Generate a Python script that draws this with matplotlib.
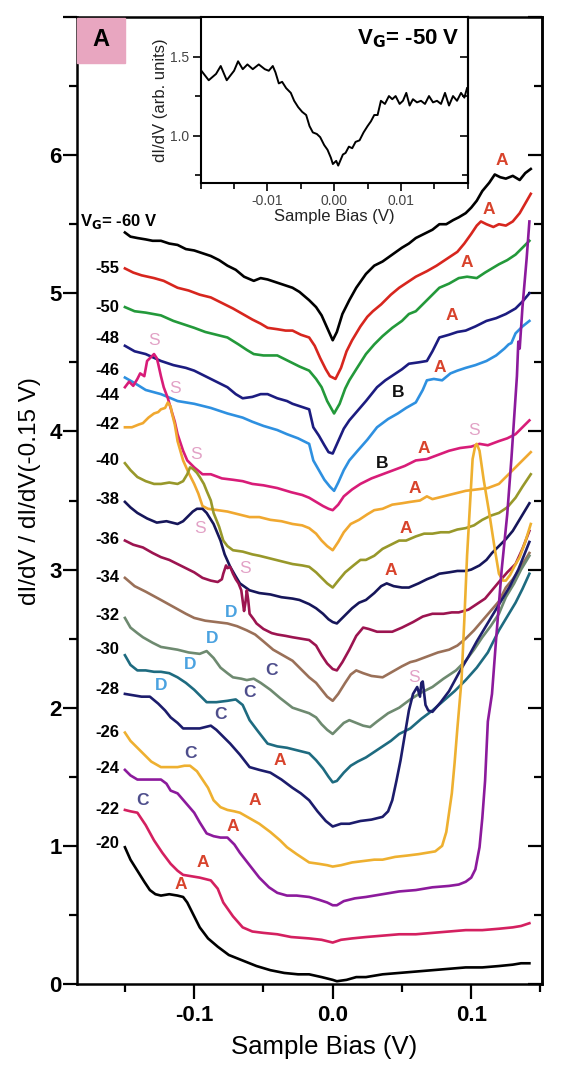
import matplotlib.pyplot as plt
from matplotlib.ticker import FixedLocator, FixedFormatter
from matplotlib.patches import Rectangle

plt.rcParams['font.family'] = ['Liberation Sans', 'DejaVu Sans']

# gate voltage of every trace, top to bottom
gate_v = ['-60', '-55', '-50', '-48', '-46', '-44', '-42', '-40', '-38',
          '-36', '-34', '-32', '-30', '-28', '-26', '-24', '-22', '-20']
colors = ['#000000', '#d7261e', '#23993a', '#1c1c80', '#2e90e0', '#d81c78',
          '#f0a830', '#98982a', '#16165a', '#9c1450', '#9a7058', '#6e8a70',
          '#1e6b80', '#1c1c6c', '#eeb030', '#8c1a9c', '#d42060', '#000000']

x60 = [-0.150, -0.146, -0.141, -0.135, -0.130, -0.124, -0.118, -0.112, -0.106, -0.100, -0.094, -0.088, -0.082, -0.076, -0.070, -0.064, -0.057, -0.052, -0.047, -0.041, -0.035, -0.029, -0.024, -0.017, -0.012, -0.008, -0.004, 0.000, 0.003, 0.007, 0.012, 0.017, 0.024, 0.030, 0.036, 0.043, 0.050, 0.055, 0.060, 0.066, 0.072, 0.077, 0.082, 0.087, 0.091, 0.096, 0.100, 0.104, 0.108, 0.113, 0.117, 0.121, 0.125, 0.130, 0.135, 0.139, 0.143]
y60 = [5.44, 5.41, 5.40, 5.39, 5.38, 5.38, 5.36, 5.35, 5.32, 5.31, 5.29, 5.27, 5.24, 5.20, 5.17, 5.12, 5.09, 5.11, 5.10, 5.08, 5.06, 5.04, 5.01, 4.95, 4.90, 4.84, 4.75, 4.66, 4.72, 4.85, 4.95, 5.04, 5.14, 5.20, 5.23, 5.28, 5.33, 5.36, 5.40, 5.43, 5.46, 5.50, 5.50, 5.53, 5.55, 5.58, 5.62, 5.67, 5.74, 5.80, 5.86, 5.84, 5.83, 5.85, 5.82, 5.87, 5.90]

x55 = [-0.150, -0.144, -0.138, -0.129, -0.122, -0.112, -0.104, -0.096, -0.088, -0.080, -0.072, -0.065, -0.058, -0.052, -0.047, -0.040, -0.034, -0.029, -0.023, -0.017, -0.013, -0.009, -0.005, -0.002, 0.002, 0.006, 0.010, 0.014, 0.020, 0.025, 0.029, 0.035, 0.042, 0.048, 0.054, 0.060, 0.068, 0.075, 0.084, 0.090, 0.095, 0.100, 0.104, 0.107, 0.111, 0.116, 0.120, 0.125, 0.130, 0.135, 0.139, 0.143]
y55 = [5.18, 5.15, 5.13, 5.11, 5.09, 5.04, 5.02, 4.99, 4.97, 4.93, 4.89, 4.85, 4.81, 4.78, 4.75, 4.74, 4.73, 4.73, 4.70, 4.68, 4.62, 4.53, 4.45, 4.40, 4.38, 4.46, 4.58, 4.66, 4.76, 4.83, 4.87, 4.92, 4.99, 5.04, 5.08, 5.12, 5.16, 5.20, 5.26, 5.30, 5.36, 5.43, 5.49, 5.52, 5.50, 5.48, 5.50, 5.49, 5.52, 5.58, 5.65, 5.72]

x50 = [-0.150, -0.143, -0.135, -0.124, -0.115, -0.106, -0.100, -0.092, -0.084, -0.076, -0.068, -0.062, -0.057, -0.050, -0.040, -0.032, -0.024, -0.017, -0.012, -0.008, -0.004, 0.001, 0.005, 0.009, 0.012, 0.017, 0.024, 0.030, 0.036, 0.043, 0.050, 0.055, 0.060, 0.066, 0.072, 0.077, 0.084, 0.091, 0.097, 0.104, 0.110, 0.115, 0.120, 0.126, 0.132, 0.137, 0.142]
y50 = [4.90, 4.87, 4.86, 4.84, 4.80, 4.77, 4.75, 4.72, 4.70, 4.68, 4.63, 4.59, 4.56, 4.55, 4.55, 4.51, 4.47, 4.44, 4.38, 4.32, 4.22, 4.13, 4.20, 4.31, 4.37, 4.45, 4.56, 4.63, 4.69, 4.75, 4.80, 4.85, 4.87, 4.93, 4.99, 5.04, 5.07, 5.11, 5.12, 5.11, 5.15, 5.18, 5.21, 5.24, 5.28, 5.33, 5.38]

x48 = [-0.150, -0.143, -0.135, -0.124, -0.115, -0.106, -0.100, -0.092, -0.084, -0.076, -0.070, -0.065, -0.058, -0.052, -0.047, -0.040, -0.033, -0.029, -0.023, -0.017, -0.014, -0.010, -0.006, -0.003, 0.000, 0.004, 0.008, 0.012, 0.018, 0.024, 0.032, 0.038, 0.044, 0.050, 0.055, 0.062, 0.068, 0.072, 0.077, 0.084, 0.090, 0.096, 0.103, 0.111, 0.118, 0.125, 0.132, 0.137, 0.142]
y48 = [4.62, 4.58, 4.56, 4.51, 4.48, 4.46, 4.44, 4.40, 4.36, 4.32, 4.27, 4.24, 4.25, 4.27, 4.27, 4.24, 4.22, 4.20, 4.18, 4.16, 4.03, 3.97, 3.90, 3.85, 3.84, 3.93, 4.02, 4.08, 4.15, 4.22, 4.32, 4.37, 4.41, 4.45, 4.49, 4.50, 4.51, 4.58, 4.68, 4.70, 4.72, 4.73, 4.76, 4.80, 4.82, 4.85, 4.89, 4.94, 5.00]

x46 = [-0.150, -0.143, -0.135, -0.124, -0.112, -0.100, -0.088, -0.076, -0.065, -0.058, -0.050, -0.040, -0.033, -0.025, -0.017, -0.014, -0.010, -0.006, -0.002, 0.001, 0.004, 0.008, 0.012, 0.018, 0.025, 0.032, 0.040, 0.047, 0.053, 0.060, 0.065, 0.068, 0.073, 0.079, 0.085, 0.090, 0.096, 0.103, 0.111, 0.118, 0.124, 0.127, 0.129, 0.132, 0.137, 0.142]
y46 = [4.39, 4.35, 4.30, 4.27, 4.22, 4.20, 4.17, 4.13, 4.10, 4.07, 4.04, 4.01, 3.98, 3.95, 3.91, 3.79, 3.72, 3.65, 3.60, 3.57, 3.63, 3.72, 3.79, 3.86, 3.94, 4.03, 4.09, 4.13, 4.17, 4.21, 4.30, 4.37, 4.38, 4.37, 4.42, 4.44, 4.46, 4.48, 4.51, 4.55, 4.60, 4.63, 4.64, 4.71, 4.76, 4.80]

x44 = [-0.150, -0.147, -0.144, -0.141, -0.139, -0.136, -0.134, -0.131, -0.129, -0.127, -0.126, -0.124, -0.122, -0.119, -0.117, -0.114, -0.112, -0.108, -0.105, -0.100, -0.094, -0.088, -0.080, -0.072, -0.065, -0.058, -0.050, -0.040, -0.030, -0.022, -0.017, -0.012, -0.007, -0.003, 0.000, 0.004, 0.008, 0.014, 0.020, 0.028, 0.036, 0.044, 0.052, 0.060, 0.068, 0.076, 0.084, 0.092, 0.100, 0.106, 0.112, 0.120, 0.126, 0.132, 0.137, 0.142]
y44 = [4.32, 4.36, 4.33, 4.38, 4.42, 4.40, 4.51, 4.54, 4.56, 4.53, 4.49, 4.40, 4.32, 4.24, 4.17, 4.07, 3.98, 3.86, 3.79, 3.74, 3.69, 3.69, 3.66, 3.65, 3.64, 3.62, 3.61, 3.59, 3.56, 3.54, 3.52, 3.49, 3.46, 3.44, 3.43, 3.47, 3.53, 3.58, 3.62, 3.66, 3.69, 3.72, 3.75, 3.79, 3.80, 3.83, 3.86, 3.88, 3.89, 3.91, 3.90, 3.93, 3.95, 3.98, 4.03, 4.08]

x42 = [-0.150, -0.145, -0.140, -0.137, -0.133, -0.129, -0.126, -0.124, -0.121, -0.119, -0.117, -0.116, -0.114, -0.112, -0.110, -0.108, -0.104, -0.100, -0.097, -0.094, -0.090, -0.083, -0.076, -0.068, -0.060, -0.053, -0.045, -0.037, -0.029, -0.022, -0.017, -0.012, -0.008, -0.004, 0.000, 0.004, 0.008, 0.013, 0.019, 0.025, 0.030, 0.036, 0.043, 0.050, 0.056, 0.063, 0.068, 0.072, 0.080, 0.088, 0.096, 0.104, 0.112, 0.120, 0.125, 0.130, 0.135, 0.139, 0.143]
y42 = [4.03, 4.03, 4.05, 4.06, 4.10, 4.13, 4.14, 4.16, 4.17, 4.21, 4.18, 4.13, 4.05, 3.93, 3.86, 3.79, 3.70, 3.62, 3.55, 3.46, 3.44, 3.43, 3.42, 3.40, 3.38, 3.38, 3.36, 3.35, 3.33, 3.32, 3.30, 3.26, 3.21, 3.17, 3.14, 3.20, 3.27, 3.33, 3.36, 3.40, 3.43, 3.44, 3.47, 3.48, 3.49, 3.50, 3.53, 3.51, 3.53, 3.55, 3.57, 3.58, 3.59, 3.62, 3.67, 3.72, 3.77, 3.81, 3.85]

x40 = [-0.150, -0.146, -0.141, -0.135, -0.129, -0.124, -0.118, -0.112, -0.108, -0.105, -0.103, -0.101, -0.098, -0.096, -0.093, -0.091, -0.088, -0.086, -0.082, -0.079, -0.076, -0.072, -0.065, -0.058, -0.053, -0.045, -0.037, -0.029, -0.022, -0.017, -0.012, -0.008, -0.004, 0.000, 0.004, 0.009, 0.015, 0.020, 0.024, 0.030, 0.036, 0.042, 0.048, 0.053, 0.060, 0.066, 0.072, 0.078, 0.084, 0.090, 0.096, 0.102, 0.108, 0.114, 0.120, 0.126, 0.132, 0.137, 0.143]
y40 = [3.77, 3.72, 3.67, 3.64, 3.62, 3.62, 3.63, 3.62, 3.64, 3.69, 3.74, 3.73, 3.70, 3.67, 3.62, 3.57, 3.50, 3.41, 3.31, 3.21, 3.17, 3.14, 3.13, 3.11, 3.10, 3.08, 3.06, 3.04, 3.03, 3.02, 2.98, 2.94, 2.90, 2.87, 2.92, 2.98, 3.03, 3.07, 3.07, 3.10, 3.15, 3.18, 3.21, 3.21, 3.24, 3.26, 3.26, 3.27, 3.27, 3.29, 3.30, 3.32, 3.36, 3.39, 3.41, 3.45, 3.52, 3.60, 3.69]

x38 = [-0.150, -0.146, -0.141, -0.134, -0.127, -0.120, -0.112, -0.108, -0.105, -0.101, -0.098, -0.094, -0.091, -0.086, -0.081, -0.078, -0.074, -0.070, -0.067, -0.060, -0.053, -0.045, -0.037, -0.029, -0.024, -0.017, -0.012, -0.007, -0.003, 0.000, 0.003, 0.008, 0.014, 0.019, 0.024, 0.030, 0.035, 0.039, 0.044, 0.050, 0.055, 0.062, 0.068, 0.073, 0.077, 0.084, 0.090, 0.096, 0.100, 0.106, 0.111, 0.115, 0.120, 0.125, 0.130, 0.136, 0.142]
y38 = [3.49, 3.45, 3.41, 3.37, 3.34, 3.35, 3.33, 3.35, 3.38, 3.42, 3.44, 3.44, 3.41, 3.33, 3.21, 3.11, 3.02, 2.95, 2.90, 2.85, 2.83, 2.82, 2.80, 2.79, 2.78, 2.75, 2.72, 2.68, 2.64, 2.62, 2.61, 2.66, 2.72, 2.76, 2.78, 2.83, 2.88, 2.90, 2.88, 2.87, 2.87, 2.90, 2.93, 2.95, 2.97, 2.98, 2.99, 2.99, 3.00, 3.03, 3.07, 3.12, 3.17, 3.22, 3.28, 3.38, 3.48]

x36 = [-0.150, -0.144, -0.137, -0.130, -0.124, -0.118, -0.112, -0.106, -0.100, -0.094, -0.088, -0.083, -0.080, -0.079, -0.077, -0.076, -0.074, -0.072, -0.070, -0.068, -0.066, -0.064, -0.063, -0.062, -0.061, -0.060, -0.057, -0.055, -0.050, -0.044, -0.040, -0.034, -0.029, -0.023, -0.017, -0.012, -0.008, -0.004, 0.000, 0.003, 0.007, 0.012, 0.017, 0.022, 0.026, 0.032, 0.038, 0.043, 0.050, 0.058, 0.065, 0.072, 0.080, 0.086, 0.091, 0.098, 0.104, 0.110, 0.115, 0.120, 0.126, 0.132, 0.137, 0.142]
y36 = [3.21, 3.18, 3.16, 3.12, 3.09, 3.07, 3.04, 3.01, 2.98, 2.94, 2.92, 2.91, 2.93, 2.97, 3.03, 3.01, 3.02, 2.97, 2.93, 2.90, 2.85, 2.70, 2.76, 2.85, 2.78, 2.68, 2.64, 2.61, 2.57, 2.54, 2.53, 2.52, 2.51, 2.50, 2.49, 2.45, 2.38, 2.32, 2.28, 2.27, 2.33, 2.42, 2.52, 2.58, 2.57, 2.55, 2.55, 2.55, 2.58, 2.62, 2.66, 2.68, 2.68, 2.69, 2.69, 2.71, 2.75, 2.79, 2.85, 2.91, 2.98, 3.04, 3.15, 3.28]

x34 = [-0.150, -0.143, -0.135, -0.124, -0.115, -0.106, -0.100, -0.092, -0.084, -0.076, -0.069, -0.062, -0.056, -0.050, -0.043, -0.036, -0.029, -0.023, -0.017, -0.012, -0.008, -0.004, 0.000, 0.004, 0.009, 0.013, 0.017, 0.022, 0.028, 0.036, 0.043, 0.050, 0.056, 0.060, 0.068, 0.076, 0.084, 0.090, 0.096, 0.102, 0.108, 0.114, 0.120, 0.125, 0.130, 0.136, 0.142]
y34 = [2.94, 2.88, 2.84, 2.78, 2.73, 2.68, 2.65, 2.63, 2.62, 2.61, 2.59, 2.56, 2.53, 2.48, 2.42, 2.38, 2.34, 2.28, 2.22, 2.18, 2.13, 2.08, 2.05, 2.10, 2.18, 2.24, 2.27, 2.25, 2.23, 2.22, 2.26, 2.30, 2.33, 2.34, 2.37, 2.40, 2.42, 2.45, 2.50, 2.56, 2.63, 2.70, 2.77, 2.87, 2.93, 3.02, 3.12]

x32 = [-0.150, -0.146, -0.141, -0.137, -0.130, -0.124, -0.118, -0.112, -0.104, -0.096, -0.091, -0.086, -0.081, -0.076, -0.072, -0.066, -0.062, -0.057, -0.052, -0.045, -0.038, -0.029, -0.023, -0.017, -0.012, -0.008, -0.004, 0.000, 0.004, 0.008, 0.012, 0.017, 0.022, 0.027, 0.032, 0.040, 0.048, 0.056, 0.064, 0.072, 0.080, 0.089, 0.096, 0.102, 0.108, 0.114, 0.120, 0.125, 0.131, 0.136, 0.142]
y32 = [2.65, 2.58, 2.54, 2.51, 2.47, 2.44, 2.43, 2.42, 2.40, 2.39, 2.41, 2.36, 2.29, 2.25, 2.22, 2.21, 2.20, 2.21, 2.18, 2.13, 2.07, 2.00, 1.98, 1.96, 1.93, 1.88, 1.84, 1.81, 1.85, 1.89, 1.91, 1.89, 1.87, 1.86, 1.90, 1.96, 2.00, 2.06, 2.11, 2.15, 2.21, 2.27, 2.34, 2.42, 2.51, 2.59, 2.68, 2.80, 2.90, 3.00, 3.10]

x30 = [-0.150, -0.146, -0.141, -0.135, -0.129, -0.124, -0.118, -0.112, -0.106, -0.100, -0.095, -0.091, -0.084, -0.076, -0.070, -0.065, -0.060, -0.054, -0.047, -0.040, -0.033, -0.025, -0.017, -0.012, -0.007, -0.003, 0.000, 0.003, 0.008, 0.013, 0.018, 0.024, 0.030, 0.036, 0.042, 0.048, 0.056, 0.064, 0.072, 0.080, 0.088, 0.096, 0.104, 0.112, 0.120, 0.126, 0.132, 0.137, 0.142]
y30 = [2.38, 2.31, 2.27, 2.27, 2.26, 2.26, 2.25, 2.22, 2.18, 2.13, 2.08, 2.04, 2.04, 2.05, 2.06, 2.02, 1.91, 1.83, 1.74, 1.72, 1.71, 1.69, 1.67, 1.62, 1.56, 1.50, 1.46, 1.47, 1.53, 1.58, 1.61, 1.64, 1.68, 1.72, 1.76, 1.81, 1.85, 1.92, 1.98, 2.05, 2.12, 2.20, 2.29, 2.40, 2.56, 2.66, 2.76, 2.86, 2.97]

x28 = [-0.150, -0.144, -0.138, -0.132, -0.126, -0.121, -0.117, -0.112, -0.108, -0.102, -0.096, -0.092, -0.088, -0.084, -0.078, -0.074, -0.067, -0.060, -0.053, -0.045, -0.037, -0.029, -0.023, -0.017, -0.011, -0.005, 0.000, 0.006, 0.012, 0.020, 0.028, 0.036, 0.040, 0.043, 0.046, 0.049, 0.052, 0.055, 0.058, 0.061, 0.063, 0.064, 0.065, 0.067, 0.069, 0.072, 0.078, 0.084, 0.091, 0.098, 0.104, 0.110, 0.116, 0.122, 0.128, 0.134, 0.138, 0.142]
y28 = [2.10, 2.09, 2.08, 2.08, 2.03, 1.98, 1.93, 1.89, 1.85, 1.85, 1.85, 1.86, 1.87, 1.84, 1.78, 1.74, 1.66, 1.57, 1.55, 1.53, 1.48, 1.42, 1.38, 1.33, 1.25, 1.18, 1.14, 1.16, 1.16, 1.18, 1.19, 1.21, 1.25, 1.33, 1.47, 1.62, 1.80, 1.98, 2.10, 2.15, 2.08, 2.18, 2.19, 2.02, 1.98, 1.97, 2.04, 2.12, 2.25, 2.37, 2.48, 2.58, 2.68, 2.78, 2.88, 3.00, 3.10, 3.20]

x26 = [-0.150, -0.146, -0.141, -0.137, -0.131, -0.124, -0.118, -0.112, -0.107, -0.103, -0.098, -0.094, -0.090, -0.086, -0.081, -0.076, -0.071, -0.067, -0.060, -0.053, -0.045, -0.038, -0.033, -0.026, -0.020, -0.017, -0.010, -0.004, 0.000, 0.006, 0.014, 0.022, 0.030, 0.036, 0.045, 0.054, 0.062, 0.068, 0.074, 0.079, 0.082, 0.084, 0.086, 0.088, 0.090, 0.093, 0.095, 0.097, 0.099, 0.101, 0.103, 0.104, 0.106, 0.109, 0.113, 0.117, 0.120, 0.123, 0.125, 0.128, 0.131, 0.135, 0.139, 0.143]
y26 = [1.82, 1.76, 1.71, 1.67, 1.61, 1.57, 1.57, 1.57, 1.58, 1.58, 1.54, 1.48, 1.42, 1.33, 1.28, 1.26, 1.25, 1.24, 1.20, 1.16, 1.10, 1.04, 0.99, 0.94, 0.90, 0.88, 0.87, 0.86, 0.85, 0.86, 0.88, 0.89, 0.90, 0.90, 0.92, 0.93, 0.94, 0.95, 0.96, 1.00, 1.10, 1.24, 1.38, 1.60, 1.85, 2.20, 2.63, 3.10, 3.45, 3.80, 3.90, 3.91, 3.86, 3.65, 3.41, 3.15, 2.97, 2.92, 2.92, 2.96, 3.02, 3.09, 3.20, 3.33]

x24 = [-0.150, -0.146, -0.141, -0.137, -0.130, -0.124, -0.120, -0.117, -0.112, -0.106, -0.100, -0.096, -0.091, -0.086, -0.081, -0.076, -0.071, -0.067, -0.060, -0.053, -0.046, -0.040, -0.033, -0.026, -0.017, -0.010, -0.004, 0.000, 0.003, 0.008, 0.016, 0.024, 0.036, 0.048, 0.060, 0.072, 0.084, 0.091, 0.096, 0.100, 0.103, 0.106, 0.108, 0.110, 0.112, 0.115, 0.118, 0.122, 0.126, 0.129, 0.131, 0.133, 0.134, 0.135, 0.137, 0.140, 0.142]
y24 = [1.55, 1.51, 1.48, 1.48, 1.48, 1.48, 1.45, 1.40, 1.38, 1.31, 1.24, 1.17, 1.09, 1.07, 1.06, 1.06, 1.01, 0.95, 0.86, 0.77, 0.70, 0.66, 0.64, 0.64, 0.63, 0.61, 0.59, 0.57, 0.57, 0.60, 0.62, 0.63, 0.65, 0.67, 0.68, 0.70, 0.71, 0.72, 0.74, 0.77, 0.83, 0.99, 1.20, 1.47, 1.90, 2.10, 2.50, 3.00, 3.40, 3.80, 4.10, 4.40, 4.65, 4.60, 4.90, 5.25, 5.52]

x22 = [-0.150, -0.146, -0.141, -0.135, -0.129, -0.123, -0.117, -0.112, -0.108, -0.102, -0.096, -0.088, -0.083, -0.079, -0.072, -0.065, -0.058, -0.050, -0.040, -0.030, -0.017, -0.008, 0.000, 0.006, 0.014, 0.024, 0.036, 0.048, 0.060, 0.072, 0.084, 0.096, 0.108, 0.120, 0.130, 0.136, 0.142]
y22 = [1.26, 1.25, 1.24, 1.15, 1.04, 0.95, 0.87, 0.82, 0.79, 0.78, 0.77, 0.75, 0.69, 0.59, 0.49, 0.41, 0.38, 0.37, 0.36, 0.34, 0.33, 0.32, 0.30, 0.32, 0.33, 0.34, 0.35, 0.36, 0.36, 0.37, 0.38, 0.39, 0.39, 0.40, 0.41, 0.42, 0.44]

x20 = [-0.150, -0.146, -0.141, -0.136, -0.132, -0.128, -0.124, -0.118, -0.112, -0.108, -0.105, -0.101, -0.096, -0.090, -0.083, -0.075, -0.065, -0.055, -0.045, -0.035, -0.025, -0.017, -0.008, 0.000, 0.003, 0.010, 0.017, 0.024, 0.036, 0.048, 0.060, 0.072, 0.084, 0.096, 0.108, 0.120, 0.130, 0.136, 0.142]
y20 = [0.99, 0.90, 0.82, 0.74, 0.68, 0.65, 0.64, 0.65, 0.64, 0.63, 0.59, 0.51, 0.41, 0.33, 0.27, 0.21, 0.17, 0.13, 0.10, 0.08, 0.07, 0.07, 0.05, 0.03, 0.02, 0.03, 0.05, 0.05, 0.07, 0.08, 0.09, 0.10, 0.11, 0.12, 0.12, 0.13, 0.14, 0.15, 0.15]

curves_x = [x60, x55, x50, x48, x46, x44, x42, x40, x38, x36, x34, x32, x30, x28, x26, x24, x22, x20]
curves_y = [y60, y55, y50, y48, y46, y44, y42, y40, y38, y36, y34, y32, y30, y28, y26, y24, y22, y20]

# label height of each gate voltage on the left
label_y = [5.52, 5.18, 4.90, 4.67, 4.44, 4.26, 4.05, 3.79, 3.51, 3.22, 2.94, 2.67,
           2.42, 2.13, 1.82, 1.56, 1.26, 1.02]

# feature letters
feat_txt = ['A', 'A', 'A', 'A', 'A', 'B', 'B', 'A', 'S', 'A', 'A', 'A', 'S',
            'S', 'S', 'S', 'S', 'S',
            'D', 'D', 'D', 'D', 'C', 'C', 'C', 'C', 'C',
            'A', 'A', 'A', 'A', 'A']
feat_x = [0.122, 0.113, 0.097, 0.086, 0.077, 0.047, 0.036, 0.066, 0.102, 0.059, 0.053, 0.042, 0.059,
          -0.129, -0.114, -0.099, -0.096, -0.063,
          -0.073, -0.087, -0.103, -0.124, -0.044, -0.060, -0.081, -0.103, -0.137,
          -0.038, -0.056, -0.072, -0.094, -0.110]
feat_y = [5.96, 5.61, 5.22, 4.84, 4.46, 4.28, 3.77, 3.88, 4.01, 3.59, 3.30, 2.99, 2.22,
          4.66, 4.31, 3.83, 3.30, 3.01,
          2.69, 2.50, 2.31, 2.16, 2.27, 2.11, 1.95, 1.67, 1.33,
          1.62, 1.33, 1.14, 0.88, 0.72]
letter_colors = {'A': '#d8432c', 'B': '#111111', 'S': '#e2a2c6', 'C': '#4e4e8c', 'D': '#4aa2e0'}
letter_weight = {'A': 'bold', 'B': 'bold', 'S': 'normal', 'C': 'bold', 'D': 'bold'}

# inset trace, V_G = -50 V
inset_x = [-0.0199, -0.0188, -0.0177, -0.0170, -0.0161, -0.0150, -0.0144, -0.0137, -0.0130, -0.0122, -0.0113, -0.0104, -0.0098, -0.0092, -0.0088, -0.0083, -0.0078, -0.0072, -0.0065, -0.0060, -0.0054, -0.0048, -0.0042, -0.0037, -0.0032, -0.0026, -0.0021, -0.0015, -0.0010, -0.0005, -0.0002, 0.0003, 0.0006, 0.0009, 0.0013, 0.0017, 0.0022, 0.0027, 0.0032, 0.0038, 0.0044, 0.0050, 0.0055, 0.0060, 0.0065, 0.0070, 0.0076, 0.0082, 0.0087, 0.0092, 0.0098, 0.0103, 0.0108, 0.0113, 0.0118, 0.0124, 0.0130, 0.0136, 0.0142, 0.0148, 0.0154, 0.0160, 0.0166, 0.0172, 0.0178, 0.0184, 0.0190, 0.0195, 0.0199]
inset_y = [1.41, 1.35, 1.39, 1.44, 1.35, 1.41, 1.47, 1.42, 1.45, 1.42, 1.45, 1.42, 1.41, 1.44, 1.40, 1.33, 1.34, 1.30, 1.27, 1.22, 1.18, 1.15, 1.13, 1.06, 1.02, 1.01, 0.99, 0.94, 0.91, 0.86, 0.82, 0.84, 0.81, 0.84, 0.88, 0.89, 0.93, 0.92, 0.96, 0.97, 1.02, 1.06, 1.09, 1.13, 1.13, 1.22, 1.20, 1.25, 1.23, 1.25, 1.20, 1.22, 1.27, 1.19, 1.23, 1.21, 1.22, 1.20, 1.25, 1.21, 1.22, 1.20, 1.27, 1.19, 1.25, 1.22, 1.27, 1.24, 1.30]

W, H = 562, 1072
fig = plt.figure(figsize=(W / 100, H / 100), dpi=100)
ax = fig.add_axes([77 / W, 88 / H, 465 / W, 967 / H])

for xs, ys, c in zip(curves_x, curves_y, colors):
    ax.plot(xs, ys, color=c, lw=1.9, solid_joinstyle='round')

ax.set_xlim(-0.1846, 0.1511)
ax.set_ylim(0, 7)
ax.xaxis.set_major_locator(FixedLocator([-0.1, 0.0, 0.1]))
ax.xaxis.set_major_formatter(FixedFormatter(['-0.1', '0.0', '0.1']))
ax.xaxis.set_minor_locator(FixedLocator([-0.15, -0.05, 0.05, 0.15]))
ax.yaxis.set_major_locator(FixedLocator([0, 1, 2, 3, 4, 5, 6, 7]))
ax.yaxis.set_major_formatter(FixedFormatter(['0', '1', '2', '3', '4', '5', '6', '']))
ax.yaxis.set_minor_locator(FixedLocator([0.5, 1.5, 2.5, 3.5, 4.5, 5.5, 6.5]))
ax.tick_params(axis='y', which='both', direction='out', left=True, right=False, width=1.6, pad=1)
ax.tick_params(axis='y', which='major', length=10)
ax.tick_params(axis='y', which='minor', length=6)
ax.tick_params(axis='x', which='both', direction='out', width=1.6, pad=4)
ax.tick_params(axis='x', which='major', length=11)
ax.tick_params(axis='x', which='minor', length=6)
for lab in ax.get_xticklabels() + ax.get_yticklabels():
    lab.set_fontsize(16)
    lab.set_fontweight('bold')
for sp in ax.spines.values():
    sp.set_linewidth(1.8)

# right side ticks pointing inward
axr = ax.secondary_yaxis('right')
axr.yaxis.set_major_locator(FixedLocator([0, 1, 2, 3, 4, 5, 6, 7]))
axr.yaxis.set_minor_locator(FixedLocator([0.5, 1.5, 2.5, 3.5, 4.5, 5.5, 6.5]))
axr.tick_params(which='both', direction='in', width=1.6, labelright=False)
axr.tick_params(which='major', length=10)
axr.tick_params(which='minor', length=6)
axr.spines['right'].set_linewidth(1.8)

ax.set_xlabel('Sample Bias (V)', fontsize=18.5)
ax.xaxis.set_label_coords(0.532, -0.053)
ax.set_ylabel('dI/dV / dI/dV(-0.15 V)', fontsize=17.5)
ax.yaxis.set_label_coords(-0.077, 0.51)

# gate voltage labels
ax.text(-0.1825, label_y[0], 'V$_\\mathbf{G}$= ' + gate_v[0] + ' V', fontsize=12,
        fontweight='bold', ha='left', va='center')
for g, yy in zip(gate_v[1:], label_y[1:]):
    ax.text(-0.154, yy, g, fontsize=12, fontweight='bold', ha='right', va='center')

for t, xx, yy in zip(feat_txt, feat_x, feat_y):
    ax.text(xx, yy, t, fontsize=12.5, color=letter_colors[t], fontweight=letter_weight[t],
            ha='center', va='center')

# panel tag
fig.patches.append(Rectangle((77 / W, (H - 63) / H), 48 / W, 45 / H,
                             transform=fig.transFigure, color='#e8a6c0', zorder=0))
fig.text(101 / W, (H - 40) / H, 'A', fontsize=17, fontweight='bold', ha='center', va='center')

# inset
ins = fig.add_axes([200.7 / W, (H - 183) / H, 267 / W, 166 / H])
ins.set_facecolor('white')
ins.plot(inset_x, inset_y, color='black', lw=1.4)
ins.set_xlim(-0.02, 0.02)
ins.set_ylim(0.70, 1.75)
ins.xaxis.set_major_locator(FixedLocator([-0.01, 0.0, 0.01]))
ins.xaxis.set_major_formatter(FixedFormatter(['-0.01', '0.00', '0.01']))
ins.xaxis.set_minor_locator(FixedLocator([-0.02, -0.015, -0.005, 0.005, 0.015, 0.02]))
ins.yaxis.set_major_locator(FixedLocator([1.0, 1.5]))
ins.yaxis.set_major_formatter(FixedFormatter(['1.0', '1.5']))
ins.yaxis.set_minor_locator(FixedLocator([0.75, 1.25]))
ins.tick_params(which='both', direction='out', width=1.2, labelsize=10,
                labelcolor='#444444', pad=2)
ins.tick_params(which='major', length=6)
ins.tick_params(which='minor', length=4)
for sp in ins.spines.values():
    sp.set_linewidth(1.5)
insr = ins.secondary_yaxis('right')
insr.yaxis.set_major_locator(FixedLocator([1.0, 1.5]))
insr.yaxis.set_minor_locator(FixedLocator([0.75, 1.25]))
insr.tick_params(which='both', direction='in', width=1.2, labelright=False)
insr.tick_params(which='major', length=6)
insr.tick_params(which='minor', length=4)
insr.spines['right'].set_linewidth(1.5)
ins.set_xlabel('Sample Bias (V)', fontsize=12, color='#222222', labelpad=1)
ins.set_ylabel('dI/dV (arb. units)', fontsize=12, color='#222222', labelpad=2)
ins.text(0.97, 0.87, 'V$_\\mathbf{G}$= -50 V', transform=ins.transAxes, fontsize=16,
         fontweight='bold', ha='right', va='center')

fig.savefig('out.png', dpi=100)
